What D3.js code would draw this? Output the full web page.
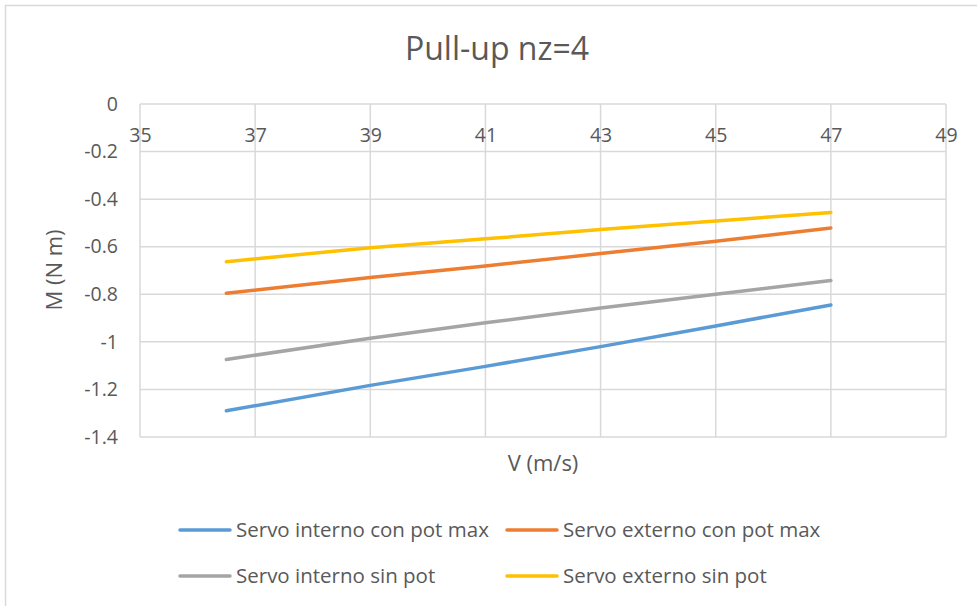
<!DOCTYPE html>
<html>
<head>
<meta charset="utf-8">
<script src="https://cdn.jsdelivr.net/npm/d3@7"></script>
<style>
  html, body { margin: 0; padding: 0; background: #fff; }
  svg { display: block; font-family: "Open Sans", "Noto Sans", sans-serif; }
</style>
</head>
<body>
<svg id="chart" width="977" height="606"></svg>
<script>
// Flight speed (m/s) at which each hinge moment was computed
const speeds = [36.5, 39, 41, 43, 45, 47];

// Hinge moment M (N m) per servo configuration
const servoInternoConPotMax = [-1.290, -1.183, -1.103, -1.020, -0.933, -0.845];
const servoExternoConPotMax = [-0.796, -0.729, -0.681, -0.629, -0.577, -0.521];
const servoInternoSinPot    = [-1.074, -0.985, -0.920, -0.858, -0.800, -0.742];
const servoExternoSinPot    = [-0.663, -0.604, -0.567, -0.528, -0.492, -0.456];

const seriesNames = [
  "Servo interno con pot max",
  "Servo externo con pot max",
  "Servo interno sin pot",
  "Servo externo sin pot"
];
const seriesColors = ["#5b9bd5", "#ed7d31", "#a5a5a5", "#ffc000"];
const seriesValues = [servoInternoConPotMax, servoExternoConPotMax, servoInternoSinPot, servoExternoSinPot];

const xTicks = [35, 37, 39, 41, 43, 45, 47, 49];
const yTicks = [0, -0.2, -0.4, -0.6, -0.8, -1, -1.2, -1.4];

const svg = d3.select("#chart");
const W = 977, H = 606;
const plot = { left: 140, right: 946, top: 104, bottom: 437 };
const textColor = "#595959";

// chart frame (open to the right and bottom edges)
svg.append("path")
  .attr("d", `M${W + 2},5.5 H5.5 V${H + 2}`)
  .attr("fill", "none")
  .attr("stroke", "#d9d9d9")
  .attr("stroke-width", 1.5);

const x = d3.scaleLinear().domain([35, 49]).range([plot.left, plot.right]);
const y = d3.scaleLinear().domain([-1.4, 0]).range([plot.bottom, plot.top]);

// gridlines
const grid = svg.append("g").attr("stroke", "#d9d9d9").attr("stroke-width", 1.5);
grid.selectAll("line.h").data(yTicks).join("line")
  .attr("class", "h")
  .attr("x1", plot.left).attr("x2", plot.right)
  .attr("y1", d => y(d)).attr("y2", d => y(d));
grid.selectAll("line.v").data(xTicks).join("line")
  .attr("class", "v")
  .attr("y1", plot.top).attr("y2", plot.bottom)
  .attr("x1", d => x(d)).attr("x2", d => x(d));

// x axis sits on M = 0, labels hang just below it
const xAxis = svg.append("g")
  .attr("transform", `translate(0,${y(0)})`)
  .call(d3.axisBottom(x).tickValues(xTicks).tickSize(0).tickPadding(24).tickFormat(d => String(d)));
xAxis.select(".domain").remove();
xAxis.selectAll("text").attr("fill", textColor).attr("font-size", 19.5).attr("font-family", "Open Sans");

const yAxis = svg.append("g")
  .attr("transform", `translate(${plot.left},0)`)
  .call(d3.axisLeft(y).tickValues(yTicks).tickSize(0).tickPadding(22).tickFormat(d => String(d)));
yAxis.select(".domain").remove();
yAxis.selectAll("text").attr("fill", textColor).attr("font-size", 19.5).attr("font-family", "Open Sans");

// series lines
const line = d3.line().x(d => x(d[0])).y(d => y(d[1]));
seriesValues.forEach((vals, i) => {
  svg.append("path")
    .datum(speeds.map((s, j) => [s, vals[j]]))
    .attr("d", line)
    .attr("fill", "none")
    .attr("stroke", seriesColors[i])
    .attr("stroke-width", 3.5)
    .attr("stroke-linecap", "round")
    .attr("stroke-linejoin", "round");
});

// titles
svg.append("text")
  .attr("x", 497).attr("y", 60)
  .attr("text-anchor", "middle")
  .attr("font-size", 32).attr("fill", textColor)
  .text("Pull-up nz=4");

svg.append("text")
  .attr("x", 543).attr("y", 471)
  .attr("text-anchor", "middle")
  .attr("font-size", 22).attr("fill", textColor)
  .text("V (m/s)");

svg.append("text")
  .attr("transform", "translate(62,270) rotate(-90)")
  .attr("text-anchor", "middle")
  .attr("font-size", 22).attr("fill", textColor)
  .text("M (N m)");

// legend, two columns by two rows
const legendPos = [[178, 530], [505, 530], [178, 576], [505, 576]];
const legend = svg.append("g");
seriesNames.forEach((name, i) => {
  const [lx, ly] = legendPos[i];
  const g = legend.append("g").attr("transform", `translate(${lx},${ly})`);
  g.append("line")
    .attr("x1", 2).attr("x2", 52).attr("y1", 0).attr("y2", 0)
    .attr("stroke", seriesColors[i]).attr("stroke-width", 3.5)
    .attr("stroke-linecap", "round");
  g.append("text")
    .attr("x", 58).attr("y", 0).attr("dy", "0.35em")
    .attr("font-size", 20.5).attr("fill", textColor)
    .text(name);
});
</script>
</body>
</html>
